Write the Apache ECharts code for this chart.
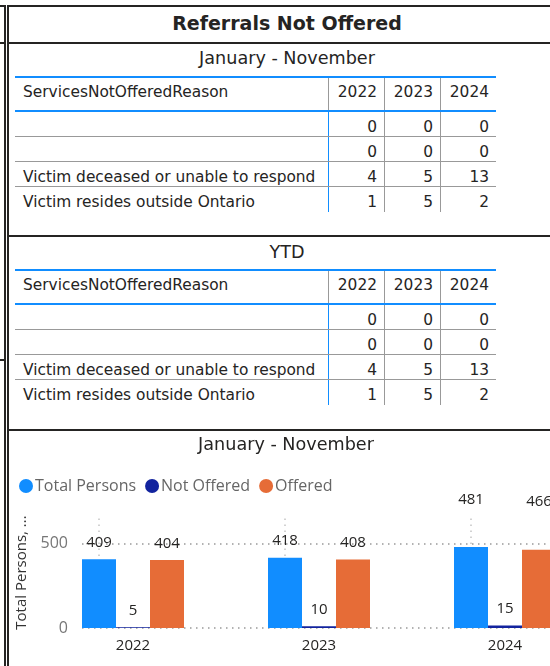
<!DOCTYPE html>
<html><head><meta charset="utf-8">
<script src="https://cdn.jsdelivr.net/npm/echarts/dist/echarts.min.js"></script>
<style>
html,body{margin:0;padding:0;background:#fff;}
body{width:550px;height:666px;overflow:hidden;position:relative;font-family:"DejaVu Sans",sans-serif;color:#252423;}
.box{position:absolute;box-sizing:border-box;border:2px solid #252423;}
.lbl{position:absolute;white-space:nowrap;text-align:center;}
.tbl{position:absolute;left:15px;width:481px;font-size:15.4px;line-height:18px;}
.row{display:flex;box-sizing:border-box;height:25px;border-bottom:1px solid #999;}
.row.last{border-bottom:none;}
.row.hdr{height:36px;border-top:2px solid #118DFF;border-bottom:2px solid #118DFF;}
.c{box-sizing:border-box;padding:5px 7px 0 7px;display:flex;align-items:center;white-space:nowrap;overflow:hidden;}
.hdr .c{align-items:flex-start;padding-top:5px;}
.c1{width:314px;padding-left:8px;border-right:1px solid #118DFF;}
.hdr .c1{border-right-color:#999;}
.cn{width:56px;justify-content:flex-end;border-right:1px solid #999;}
.cn.lastc{width:55px;border-right:none;}
#chart{position:absolute;left:0;top:0;width:550px;height:666px;}
</style>
</head>
<body>
<!-- neighbouring visuals cut off at the left -->
<div class="box" style="left:-20px;top:5px;width:26px;height:39px;"></div>
<div class="box" style="left:-20px;top:42px;width:26px;height:319px;"></div>
<div class="box" style="left:-20px;top:359px;width:26px;height:400px;"></div>
<!-- panels -->
<div class="box" style="left:7px;top:5px;width:560px;height:39px;"></div>
<div class="box" style="left:7px;top:42px;width:560px;height:195px;"></div>
<div class="box" style="left:7px;top:235px;width:560px;height:196px;"></div>
<div class="box" style="left:7px;top:429px;width:560px;height:300px;"></div>

<div class="lbl" style="left:7px;width:560px;top:12px;line-height:22px;font-size:19px;font-weight:bold;">Referrals Not Offered</div>
<div class="lbl" style="left:7px;width:560px;top:48px;line-height:20px;font-size:17.6px;">January - November</div>
<div class="lbl" style="left:7px;width:560px;top:242px;line-height:20px;font-size:17.6px;">YTD</div>

<div class="tbl" id="t1" style="top:76px;"></div>
<div class="tbl" id="t2" style="top:269px;"></div>

<div id="chart"></div>
<script>
// ---- table data ----
const tableYears = ['2022', '2023', '2024'];
const reasonHeader = 'ServicesNotOfferedReason';
const reasons = ['', '', 'Victim deceased or unable to respond', 'Victim resides outside Ontario'];
const janNovCounts = [[0, 0, 0], [0, 0, 0], [4, 5, 13], [1, 5, 2]];
const ytdCounts = [[0, 0, 0], [0, 0, 0], [4, 5, 13], [1, 5, 2]];

// ---- chart data ----
const chartYears = ['2022', '2023', '2024'];
const totalPersons = [409, 418, 481];
const notOffered = [5, 10, 15];
const offered = [404, 408, 466];
const yTicks = [0, 500];

function buildTable(el, counts) {
  let html = '<div class="row hdr"><div class="c c1">' + reasonHeader + '</div>';
  tableYears.forEach((y, i) => {
    html += '<div class="c cn' + (i === tableYears.length - 1 ? ' lastc' : '') + '">' + y + '</div>';
  });
  html += '</div>';
  reasons.forEach((r, ri) => {
    html += '<div class="row' + (ri === reasons.length - 1 ? ' last' : '') + '"><div class="c c1">' + r + '</div>';
    counts[ri].forEach((v, i) => {
      html += '<div class="c cn' + (i === counts[ri].length - 1 ? ' lastc' : '') + '">' + v + '</div>';
    });
    html += '</div>';
  });
  el.innerHTML = html;
}
buildTable(document.getElementById('t1'), janNovCounts);
buildTable(document.getElementById('t2'), ytdCounts);

const chart = echarts.init(document.getElementById('chart'), null, {renderer: 'canvas'});
const F = '"Open Sans", sans-serif';
const lbl = v => ({value: v, label: {distance: v > 450 ? 40 : 9}});
const labelCfg = {show: true, position: 'top', fontFamily: F, fontSize: 15, color: '#252423'};
const yMax = 660;
chart.setOption({
  animation: false,
  backgroundColor: 'transparent',
  title: {
    text: 'January - November', left: 286, top: 436, padding: 0, textAlign: 'center',
    textStyle: {fontFamily: '"DejaVu Sans", sans-serif', fontSize: 17.6, fontWeight: 'normal', color: '#252423'}
  },
  legend: {
    left: 19, top: 478, padding: 0, icon: 'circle', itemWidth: 14, itemHeight: 14, itemGap: 9,
    textStyle: {fontFamily: F, fontSize: 16, color: '#666', padding: [0, 0, 0, -3]},
    data: ['Total Persons', 'Not Offered', 'Offered']
  },
  grid: [
    {left: 40, top: 517, height: 111, width: 558, outerBoundsMode: 'none', containLabel: false},
    {left: 82, top: 517, height: 111, width: 520, outerBoundsMode: 'none', containLabel: false}
  ],
  xAxis: [
    {type: 'category', gridIndex: 0, data: chartYears, axisLine: {show: false}, axisTick: {show: false},
     axisLabel: {fontFamily: F, fontSize: 15, color: '#252423', margin: 10}, splitLine: {show: false}},
    {type: 'value', gridIndex: 1, min: 0, max: 1, show: false}
  ],
  yAxis: [
    {type: 'value', gridIndex: 0, min: yTicks[0], max: yMax, interval: yTicks[1] - yTicks[0], show: false, splitLine: {show: false}},
    {type: 'value', gridIndex: 1, min: yTicks[0], max: yMax, interval: yTicks[1] - yTicks[0],
     axisLine: {show: false}, axisTick: {show: false},
     axisLabel: {fontFamily: F, fontSize: 16, color: '#777', margin: 14, showMaxLabel: false},
     splitLine: {show: true, showMaxLine: false, lineStyle: {color: '#999', width: 1.5, type: [1.5, 4.5]}},
     name: 'Total Persons, ...', nameLocation: 'middle', nameGap: 49, nameRotate: 90,
     nameTextStyle: {fontFamily: F, fontSize: 15, color: '#333'}}
  ],
  series: [
    {name: 'Total Persons', type: 'bar', xAxisIndex: 0, yAxisIndex: 0, barWidth: 34, barGap: '0%',
     itemStyle: {color: '#118DFF'}, label: labelCfg, data: totalPersons.map(lbl),
     markLine: {silent: true, symbol: ['none', 'none'], label: {show: false}, z: 1,
       lineStyle: {color: '#c4c4c4', width: 1.5, type: [1.5, 4.5]},
       data: chartYears.map(y => ({xAxis: y}))}},
    {name: 'Not Offered', type: 'bar', xAxisIndex: 0, yAxisIndex: 0, barWidth: 34, barGap: '0%',
     itemStyle: {color: '#12239E'}, label: labelCfg, data: notOffered.map(lbl)},
    {name: 'Offered', type: 'bar', xAxisIndex: 0, yAxisIndex: 0, barWidth: 34, barGap: '0%',
     itemStyle: {color: '#E66C37'}, label: labelCfg, data: offered.map(lbl)}
  ]
});
</script>
</body></html>
